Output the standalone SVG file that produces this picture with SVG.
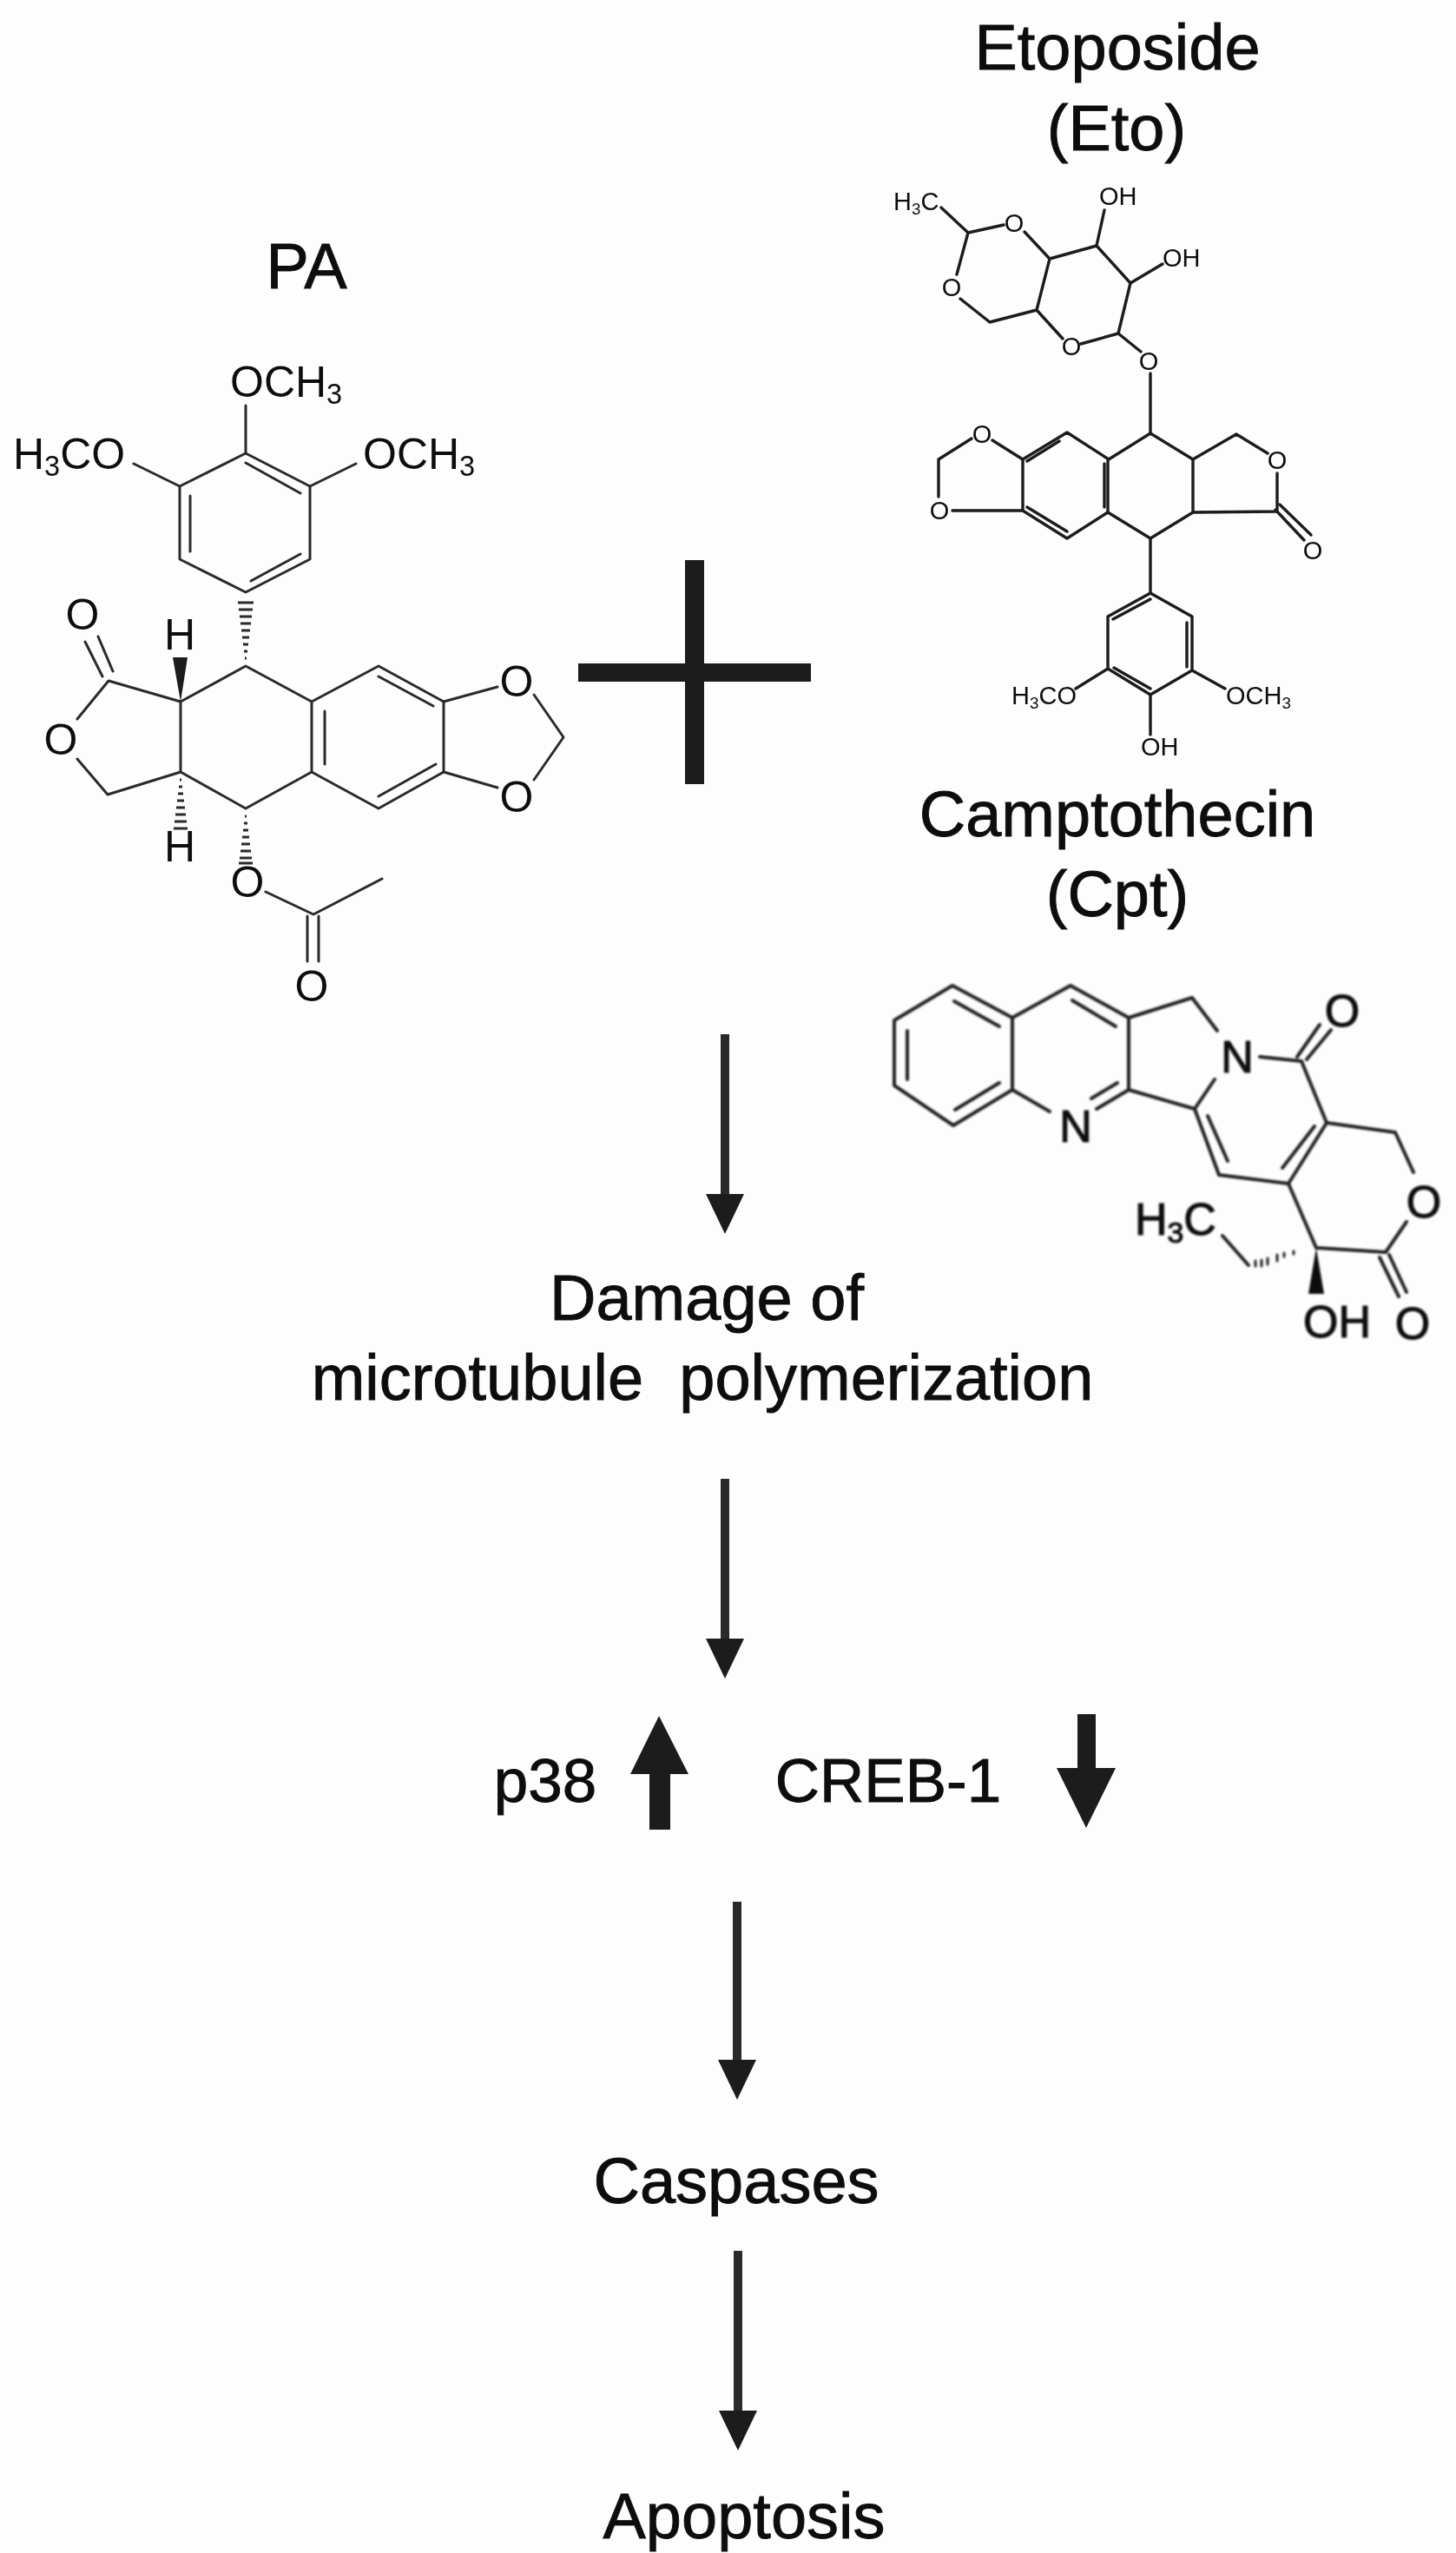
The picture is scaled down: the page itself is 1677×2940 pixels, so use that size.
<svg xmlns="http://www.w3.org/2000/svg" width="1677" height="2940" viewBox="0 0 1677 2940">
<style>
text{font-family:"Liberation Sans",Arial,sans-serif;fill:#111}
.t{font-size:74px;text-anchor:middle;stroke:#111;stroke-width:.9}
.m{font-size:71px;text-anchor:middle;stroke:#111;stroke-width:.9}
.a{font-size:50px}
.ac{font-size:50px;text-anchor:middle}
.e{font-size:29px}
.ec{font-size:29px;text-anchor:middle}
.c{font-size:52px;stroke:#111;stroke-width:1.2}
.cc{font-size:52px;text-anchor:middle;stroke:#111;stroke-width:1.2}
.s{font-size:65%}
.b{fill:none;stroke:#2a2a2a;stroke-width:3;stroke-linejoin:round;stroke-linecap:round}
.be{fill:none;stroke:#1c1c1c;stroke-width:3.4;stroke-linejoin:round;stroke-linecap:round}
.bc{fill:none;stroke:#222;stroke-width:4;stroke-linejoin:round;stroke-linecap:round}
.h{fill:none;stroke:#2a2a2a;stroke-width:3}
.arrow{stroke:#2a2a2a;stroke-width:10}
.fill{fill:#1d1d1d}
</style>
<defs>
<filter id="soft" x="-2%" y="-2%" width="104%" height="104%"><feGaussianBlur stdDeviation="0.6"/></filter>
<filter id="softer" x="-2%" y="-2%" width="104%" height="104%"><feGaussianBlur stdDeviation="1"/></filter>
<marker id="head" markerUnits="userSpaceOnUse" markerWidth="46" markerHeight="46" refX="0" refY="0" orient="auto-start-reverse" viewBox="0 -23 46 46" overflow="visible">
<path d="M0 -22L46 0L0 22Z" fill="#1d1d1d"/>
</marker>
</defs>
<rect width="1677" height="2940" fill="#fdfdfd"/>

<g filter="url(#soft)">
<g id="pa-label"><text class="t" x="353" y="332">PA</text></g>
<g id="pa-molecule">
<path class="b" d="M283 522L357 560V644L283 682L207 644V560ZM283 533L346 568M219 571V635M289 669L346 638"/>
<path class="b" d="M283 467V522M154 534L207 560M410 534L357 560"/>
<path class="b" d="M283 767L208 808V889L283 931L359 889V808ZM359 808L436 767L511 808V889L436 931L359 889M374 819V880M436 779L499 813M436 917L502 880"/>
<path class="b" d="M511 808L573 791M511 889L573 907M615 800L649 849L615 898"/>
<path class="b" d="M208 808L125 784L89 828M89 874L124 915L208 889M98 739L118 779M113 733L130 773"/>
<path class="b" d="M306 1027L361 1053L440 1012M354 1055V1107M367 1055V1107"/>
<polygon class="fill" points="208,808 199,757 216,757"/>
<path class="h" d="M274 694H292M275 702H291M276 710H290M277 718H289M278 726H288M279 734H287M280 742H286M281 750H285M282 758H284"/>
<path class="h" d="M207 898H209M206 906H210M205 914H211M204 922H212M203 930H213M202 938H214M201 946H215M200 954H216"/>
<path class="h" d="M282 940H284M281 948H285M280 956H286M279 964H287M278 972H288M277 980H289M276 988H290M275 994H291"/>
<text class="a" x="265" y="457">OCH<tspan class="s" dy="8">3</tspan></text>
<text class="a" x="15" y="540">H<tspan class="s" dy="8">3</tspan><tspan dy="-8">CO</tspan></text>
<text class="a" x="418" y="540">OCH<tspan class="s" dy="8">3</tspan></text>
<text class="ac" x="95" y="725">O</text>
<text class="ac" x="70" y="869">O</text>
<text class="ac" x="595" y="802">O</text>
<text class="ac" x="595" y="935">O</text>
<text class="ac" x="285" y="1033">O</text>
<text class="ac" x="359" y="1153">O</text>
<text class="ac" x="207" y="748">H</text>
<text class="ac" x="207" y="992">H</text>
</g>

<g id="plus"><rect class="fill" x="789" y="645" width="22" height="258"/><rect class="fill" x="666" y="764" width="268" height="21"/></g>

<g id="eto-label"><text class="t" x="1287" y="80">Etoposide</text><text class="t" x="1286" y="173">(Eto)</text></g>
<g id="eto-molecule">
<path class="be" d="M1084 239L1115 268L1156 259M1115 268L1102 316M1106 344L1140 371L1194 357L1224 390M1245 396L1288 384L1302 326L1263 283L1209 298L1180 267M1209 298L1194 357"/>
<path class="be" d="M1263 283L1272 242M1302 326L1339 304M1288 384L1314 405M1325 430V499"/>
<path class="be" d="M1325 499L1277 529L1229 498L1178 529V588L1229 620L1276 590V529M1276 590L1325 620L1374 590V529L1325 499M1374 529L1424 500L1460 522M1471 545V589L1374 590M1183 531L1220 508M1272 534V584M1183 584L1229 612"/>
<path class="be" d="M1178 529L1143 507M1119 505L1081 529V572M1097 588H1178"/>
<path class="be" d="M1469 587L1502 622M1474 581L1510 616"/>
<path class="be" d="M1325 620V683L1373 710V772L1325 800L1276 770V710L1325 683M1282 713L1325 690M1367 717V768M1283 769L1325 793M1325 800V846M1276 770L1239 793M1373 772L1411 793"/>
<text class="e" x="1029" y="242">H<tspan class="s" dy="5">3</tspan><tspan dy="-5">C</tspan></text>
<text class="ec" x="1168" y="267">O</text>
<text class="ec" x="1096" y="341">O</text>
<text class="ec" x="1234" y="409">O</text>
<text class="ec" x="1323" y="426">O</text>
<text class="e" x="1266" y="236">OH</text>
<text class="e" x="1339" y="307">OH</text>
<text class="ec" x="1131" y="510">O</text>
<text class="ec" x="1082" y="598">O</text>
<text class="ec" x="1471" y="540">O</text>
<text class="ec" x="1512" y="644">O</text>
<text class="e" x="1165" y="811">H<tspan class="s" dy="5">3</tspan><tspan dy="-5">CO</tspan></text>
<text class="e" x="1412" y="811">OCH<tspan class="s" dy="5">3</tspan></text>
<text class="e" x="1314" y="870">OH</text>
</g>

<g id="cpt-label"><text class="t" x="1287" y="963">Camptothecin</text><text class="t" x="1287" y="1055">(Cpt)</text></g>

<g id="damage"><text class="t" x="814" y="1520">Damage of</text><text class="t" x="809" y="1612" xml:space="preserve">microtubule  polymerization</text></g>
<g id="p38"><text class="m" x="628" y="2075">p38</text></g>
<g id="creb1"><text class="m" x="1023" y="2075">CREB-1</text></g>
<g id="caspases"><text class="t" x="848" y="2537">Caspases</text></g>
<g id="apoptosis"><text class="t" x="857" y="2923">Apoptosis</text></g>

<g id="connectors">
<line class="arrow" x1="835" y1="1191" x2="835" y2="1375" marker-end="url(#head)"/>
<line class="arrow" x1="835" y1="1703" x2="835" y2="1887" marker-end="url(#head)"/>
<line class="arrow" x1="849" y1="2190" x2="849" y2="2372" marker-end="url(#head)"/>
<line class="arrow" x1="850" y1="2592" x2="850" y2="2776" marker-end="url(#head)"/>
<polygon class="fill" points="759,1976 793,2043 772,2043 772,2107 748,2107 748,2043 726,2043"/>
<polygon class="fill" points="1251,2105 1285,2036 1262,2036 1262,1974 1241,1974 1241,2036 1217,2036"/>
</g>
</g>

<g id="cpt-molecule" filter="url(#softer)">
<path class="bc" d="M1097 1135L1166 1172V1255L1098 1296L1030 1250V1175ZM1099 1153L1151 1182M1151 1247L1100 1278M1045 1187V1243"/>
<path class="bc" d="M1166 1172L1233 1135L1300 1172V1255L1263 1277M1166 1255L1209 1280M1257 1265L1287 1247M1235 1152L1285 1182"/>
<path class="bc" d="M1300 1172L1373 1149L1402 1187M1399 1243L1376 1277L1300 1255"/>
<path class="bc" d="M1451 1217L1499 1222L1528 1293L1607 1304L1628 1350M1620 1407L1596 1442L1516 1437L1484 1363L1528 1293M1477 1345L1514 1297M1484 1363L1404 1353L1376 1277M1414 1337L1391 1285"/>
<path class="bc" d="M1494 1217L1520 1180M1505 1220L1533 1186M1589 1448L1611 1493M1600 1445L1620 1488M1408 1423L1438 1457"/>
<polygon fill="#111" points="1516,1437 1507,1490 1525,1490"/>
<path class="bc" style="stroke-width:3" d="M1446 1452V1458M1453 1451V1458M1460 1449V1456M1471 1445V1452M1479 1443V1447M1490 1441V1444"/>
<text class="cc" x="1239" y="1315">N</text>
<text class="cc" x="1425" y="1235">N</text>
<text class="cc" x="1546" y="1182">O</text>
<text class="cc" x="1640" y="1402">O</text>
<text class="cc" x="1627" y="1542">O</text>
<text class="c" x="1501" y="1540">OH</text>
<text class="c" x="1307" y="1422">H<tspan class="s" dy="9">3</tspan><tspan dy="-9">C</tspan></text>
</g>
</svg>
